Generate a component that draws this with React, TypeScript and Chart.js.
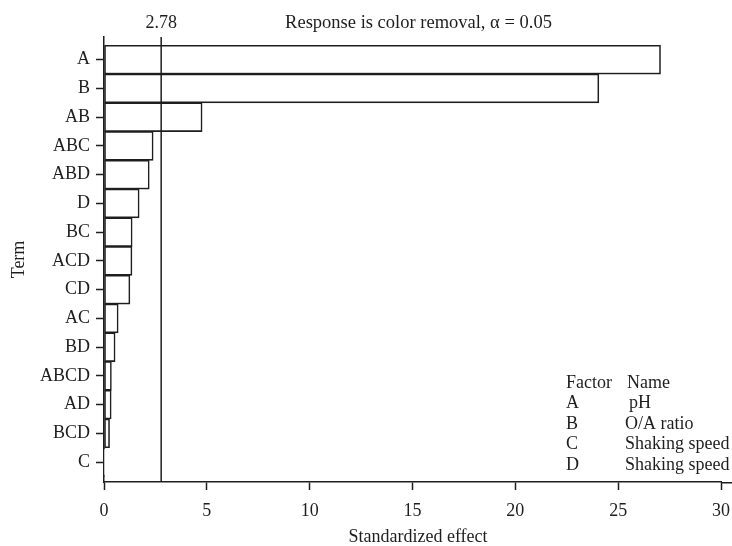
import React, { useEffect, useRef } from "react";
import { Chart, registerables } from "chart.js";

Chart.register(...registerables);

const terms = ["A", "B", "AB", "ABC", "ABD", "D", "BC", "ACD", "CD", "AC", "BD", "ABCD", "AD", "BCD", "C"];
const effects = [27.06, 24.06, 4.77, 2.39, 2.2, 1.71, 1.37, 1.36, 1.26, 0.69, 0.54, 0.36, 0.35, 0.27, 0.02];
const criticalValue = 2.78;
const xTicks = [0, 5, 10, 15, 20, 25, 30];
const titleText = "Response is color removal, \u03b1 = 0.05";
const xAxisTitle = "Standardized effect";
const legendFactors = ["A", "B", "C", "D"];
const legendNames = ["pH", "O/A ratio", "Shaking speed", "Shaking speed"];

const FONT = "'Liberation Serif', 'Times New Roman', serif";
const INK = "#1e1e1e";

const annotations = {
  id: "annotations",
  afterDatasetsDraw(chart: any) {
    const { ctx, chartArea, scales, width } = chart;
    const x = scales.x.getPixelForValue(criticalValue);
    ctx.save();
    ctx.strokeStyle = INK;
    ctx.lineWidth = 1.5;
    ctx.beginPath();
    ctx.moveTo(x, chartArea.top);
    ctx.lineTo(x, chartArea.bottom);
    ctx.stroke();

    // axis line continues slightly past the last tick
    ctx.beginPath();
    ctx.moveTo(chartArea.right, chartArea.bottom + 0.75);
    ctx.lineTo(width, chartArea.bottom + 0.75);
    ctx.stroke();

    ctx.fillStyle = INK;
    ctx.font = `18px ${FONT}`;
    ctx.textBaseline = "middle";
    ctx.textAlign = "center";
    ctx.fillText(criticalValue.toFixed(2), x, 15);
    ctx.font = `18.5px ${FONT}`;
    ctx.fillText(titleText, 410.5, 15);
    ctx.font = `18px ${FONT}`;
    ctx.fillText(xAxisTitle, 410, 529);

    ctx.textAlign = "left";
    const fx = 558;
    const nx = 617;
    const y0 = 375;
    const dy = 20.5;
    ctx.fillText("Factor", fx, y0);
    ctx.fillText("Name", nx + 2, y0);
    legendFactors.forEach((f, i) => {
      const y = y0 + dy * (i + 1);
      ctx.fillText(f, fx, y);
      ctx.fillText(legendNames[i], nx + (i === 0 ? 4 : 0), y);
    });
    ctx.restore();
  },
};

export default function App() {
  const ref = useRef<HTMLCanvasElement>(null);
  useEffect(() => {
    if (!ref.current) return;
    const chart = new Chart(ref.current, {
      type: "bar",
      data: {
        datasets: [
          {
            data: effects.map((v, i) => ({ x: v, y: i })),
            backgroundColor: "#ffffff",
            borderColor: INK,
            borderWidth: 1.6,
            borderSkipped: false,
            barPercentage: 1,
            categoryPercentage: 1,
          },
        ],
      },
      plugins: [annotations],
      options: {
        indexAxis: "y",
        responsive: false,
        animation: false,
        devicePixelRatio: 1,
        layout: { padding: { top: 29, right: 11, left: 0, bottom: 0 } },
        plugins: { legend: { display: false }, tooltip: { enabled: false }, title: { display: false } },
        scales: {
          x: {
            type: "linear",
            min: xTicks[0],
            max: xTicks[xTicks.length - 1],
            afterBuildTicks: (axis: any) => {
              axis.ticks = xTicks.map((v) => ({ value: v }));
            },
            afterFit: (axis: any) => {
              axis.height = 64;
              axis.paddingRight = 0;
              axis.paddingLeft = 0;
            },
            grid: { drawOnChartArea: false, tickLength: 8, color: INK, tickWidth: 1.5 },
            border: { display: true, color: INK, width: 1.5 },
            ticks: { color: INK, font: { family: FONT, size: 18 }, padding: 10, maxRotation: 0 },
            title: { display: false },
          },
          y: {
            type: "linear",
            reverse: true,
            offset: false,
            min: -0.79,
            max: 14.69,
            afterFit: (axis: any) => {
              axis.width = 96;
            },
            grid: { drawOnChartArea: false, offset: false, tickLength: 8, color: INK, tickWidth: 1.5 },
            border: { display: true, color: INK, width: 1.5 },
            ticks: {
              stepSize: 1,
              includeBounds: false,
              autoSkip: false,
              color: INK,
              padding: 6,
              font: { family: FONT, size: 18 },
              callback: (v: any) => (Number.isInteger(v) && terms[v] !== undefined ? terms[v] : ""),
            },
            title: {
              display: true,
              text: "Term",
              color: INK,
              font: { family: FONT, size: 18 },
              padding: { top: 0, bottom: 0 },
            },
          },
        },
      },
    } as any);
    return () => chart.destroy();
  }, []);
  return (
    <div style={{ position: "fixed", left: 8, top: 8, width: 724, height: 538 }}>
      <canvas ref={ref} width={724} height={538} style={{ display: "block" }} />
    </div>
  );
}
